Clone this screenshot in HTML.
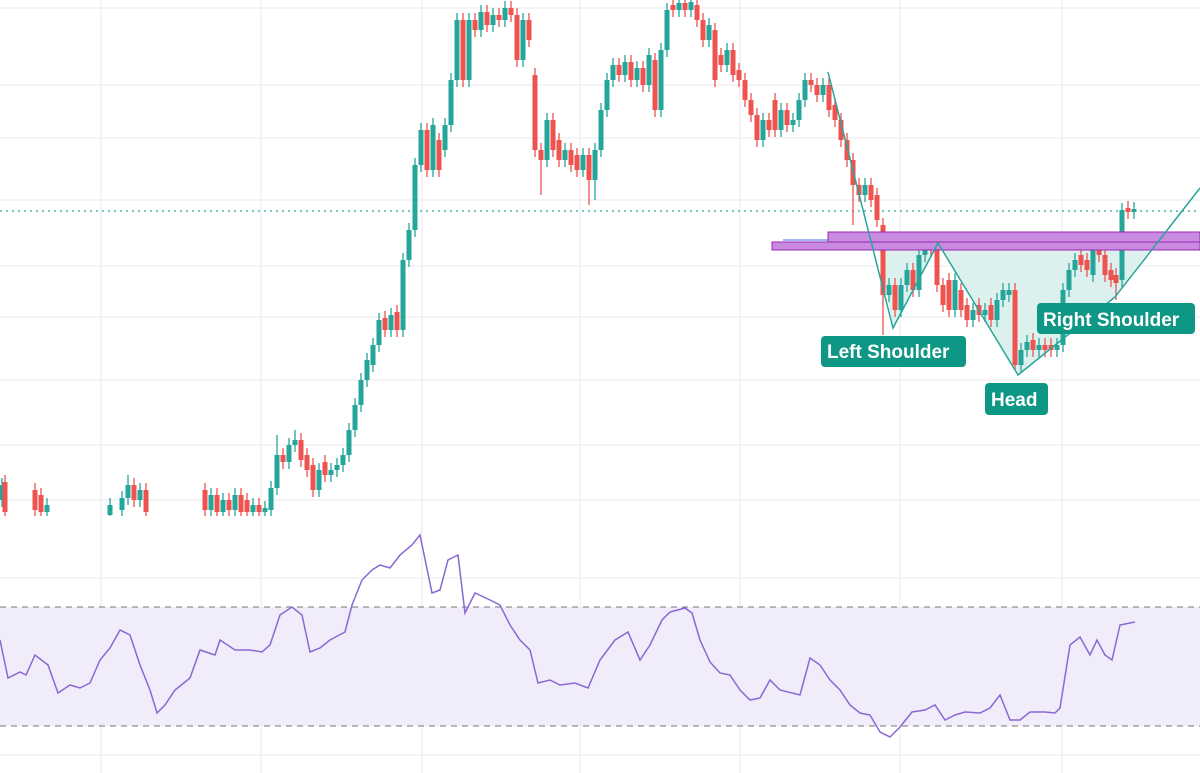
<!DOCTYPE html>
<html><head><meta charset="utf-8"><style>
html,body{margin:0;padding:0;background:#fff;width:1200px;height:773px;overflow:hidden}
svg{display:block}
text{font-family:"Liberation Sans",sans-serif;font-weight:bold;fill:#fff;font-size:19px}
</style></head><body>
<svg width="1200" height="773" xmlns="http://www.w3.org/2000/svg">
<defs><clipPath id="cp"><rect x="0" y="0" width="1200" height="516"/></clipPath></defs>
<g stroke="#f0f0f3" stroke-width="1.5">
<line x1="101" y1="0" x2="101" y2="773"/><line x1="261" y1="0" x2="261" y2="773"/><line x1="422" y1="0" x2="422" y2="773"/><line x1="580" y1="0" x2="580" y2="773"/><line x1="740" y1="0" x2="740" y2="773"/><line x1="900" y1="0" x2="900" y2="773"/><line x1="1062" y1="0" x2="1062" y2="773"/>
<line x1="0" y1="8" x2="1200" y2="8"/><line x1="0" y1="85" x2="1200" y2="85"/><line x1="0" y1="138" x2="1200" y2="138"/><line x1="0" y1="200" x2="1200" y2="200"/><line x1="0" y1="266" x2="1200" y2="266"/><line x1="0" y1="317" x2="1200" y2="317"/><line x1="0" y1="380" x2="1200" y2="380"/><line x1="0" y1="445" x2="1200" y2="445"/><line x1="0" y1="500" x2="1200" y2="500"/>
<line x1="0" y1="578" x2="1200" y2="578"/><line x1="0" y1="655" x2="1200" y2="655"/><line x1="0" y1="695" x2="1200" y2="695"/><line x1="0" y1="755" x2="1200" y2="755"/>
</g>
<rect x="0" y="607" width="1200" height="119" fill="#f1ecf9"/>
<line x1="0" y1="607" x2="1200" y2="607" stroke="#777" stroke-dasharray="6,5"/>
<line x1="0" y1="726" x2="1200" y2="726" stroke="#777" stroke-dasharray="6,5"/>
<polygon points="878,245 893,328 938,243 1018,375 1115,297 1153,245" fill="#dcf0ee"/>
<line x1="0" y1="211" x2="1200" y2="211" stroke="#26a69a" stroke-dasharray="2,4" stroke-width="1.3"/>
<g clip-path="url(#cp)" fill="none">
<path stroke="#26a69a" stroke-width="1.3" d="M2 478V507M47 498V519M110 498V522M122 491V517M128 475V505M140 483V507M211 488V517M223 493V519M235 488V517M253 498V519M265 501V519M271 481V517M277 435V495M289 438V469M295 430V452M319 463V497M331 463V482M337 458V477M343 448V472M349 423V462M355 398V437M361 373V412M367 353V387M373 338V372M379 313V352M391 308V337M403 253V337M409 223V267M415 158V237M421 123V172M433 118V177M445 118V157M451 73V132M457 13V87M469 13V87M481 5V37M493 8V32M505 1V27M523 13V67M547 113V167M565 143V167M583 148V177M595 143V200M601 103V157M607 73V117M613 58V87M625 55V82M637 61V87M649 48V92M661 43V117M667 3V57M679 0V17M691 0V17M709 18V47M727 43V72M763 113V147M781 103V137M793 113V132M799 93V127M805 73V107M823 78V102M865 178V202M889 278V302M901 278V317M907 263V292M919 248V297M925 238V262M955 273V317M973 303V327M985 303V322M997 293V327M1003 283V307M1009 283V302M1021 343V372M1027 335V357M1039 338V357M1057 338V357M1063 283V352M1069 263V297M1075 253V277M1093 238V282M1122 203V287M1134 202V219"/>
<path stroke="#26a69a" stroke-width="5" d="M2 485V500M47 505V512M110 505V515M122 498V510M128 485V498M140 490V500M211 495V510M223 500V512M235 495V510M253 505V512M265 508V512M271 488V510M277 455V488M289 445V462M295 440V445M319 470V490M331 470V475M337 465V470M343 455V465M349 430V455M355 405V430M361 380V405M367 360V380M373 345V365M379 320V345M391 315V330M403 260V330M409 230V260M415 165V230M421 130V165M433 125V170M445 125V150M451 80V125M457 20V80M469 20V80M481 12V30M493 15V25M505 8V20M523 20V60M547 120V160M565 150V160M583 155V170M595 150V180M601 110V150M607 80V110M613 65V80M625 62V75M637 68V80M649 55V85M661 50V110M667 10V50M679 3V10M691 2V10M709 25V40M727 50V65M763 120V140M781 110V130M793 120V125M799 100V120M805 80V100M823 85V95M865 185V195M889 285V295M901 285V310M907 270V285M919 255V290M925 245V255M955 280V310M973 310V320M985 310V315M997 300V320M1003 290V300M1009 290V295M1021 350V365M1027 342V350M1039 345V350M1057 345V350M1063 290V345M1069 270V290M1075 260V270M1093 245V275M1122 210V280M1134 209V212"/>
<path stroke="#ef5350" stroke-width="1.3" d="M5 475V519M35 483V517M41 488V519M134 478V507M146 483V519M205 483V517M217 488V519M229 493V517M241 488V519M247 493V519M259 498V519M283 448V469M301 433V467M307 448V477M313 458V497M325 455V482M385 311V337M397 305V337M427 123V177M439 133V177M463 13V87M475 13V37M487 5V32M499 8V27M511 1V22M517 8V67M529 13V47M535 68V157M541 143V195M553 113V157M559 133V167M571 143V172M577 148V177M589 148V205M619 58V82M631 55V87M643 61V92M655 53V117M673 0V17M685 0V17M697 0V27M703 13V47M715 23V87M721 48V72M733 43V82M739 63V87M745 73V107M751 93V122M757 108V147M769 113V137M775 93V137M787 103V132M811 73V92M817 78V102M829 78V117M835 98V127M841 113V147M847 133V167M853 153V225M859 178V202M871 178V207M877 188V227M883 218V335M895 278V317M913 263V297M931 238V257M937 238V292M943 278V312M949 273V317M961 283V317M967 298V327M979 298V322M991 298V327M1015 283V370M1033 333V357M1045 338V357M1051 338V357M1081 248V272M1087 253V277M1099 238V262M1105 248V282M1111 263V287M1116 268V300M1128 201V219"/>
<path stroke="#ef5350" stroke-width="5" d="M5 482V512M35 490V510M41 495V512M134 485V500M146 490V512M205 490V510M217 495V512M229 500V510M241 495V512M247 500V512M259 505V512M283 455V462M301 440V460M307 455V470M313 465V490M325 462V475M385 318V330M397 312V330M427 130V170M439 140V170M463 20V80M475 20V30M487 12V25M499 15V20M511 8V15M517 15V60M529 20V40M535 75V150M541 150V160M553 120V150M559 140V160M571 150V165M577 155V170M589 155V180M619 65V75M631 62V80M643 68V85M655 60V110M673 5V10M685 3V10M697 5V20M703 20V40M715 30V80M721 55V65M733 50V75M739 70V80M745 80V100M751 100V115M757 115V140M769 120V130M775 100V130M787 110V125M811 80V85M817 85V95M829 85V110M835 105V120M841 120V140M847 140V160M853 160V185M859 185V195M871 185V200M877 195V220M883 225V295M895 285V310M913 270V290M931 245V250M937 245V285M943 285V305M949 280V310M961 290V310M967 305V320M979 305V315M991 305V320M1015 290V365M1033 340V350M1045 345V350M1051 345V350M1081 255V265M1087 260V270M1099 245V255M1105 255V275M1111 270V280M1116 275V283M1128 208V212"/>
</g>
<rect x="828" y="232" width="372" height="14" fill="#c98be2" stroke="#9c27b0" stroke-width="1"/>
<rect x="772" y="242" width="428" height="8" fill="#c98be2" stroke="#9c27b0" stroke-width="1"/>
<line x1="783" y1="240" x2="828" y2="240" stroke="#3f6fe0" stroke-width="1"/>
<polyline points="828,72 893,328 938,243 1018,375 1115,297 1200,188" fill="none" stroke="#26a69a" stroke-width="1.5"/>
<polyline fill="none" stroke="#8a68d4" stroke-width="1.5" points="0,640 8,678 20,672 26,675 35,655 48,665 58,693 70,685 80,688 90,683 100,660 110,648 120,630 130,635 140,665 150,690 157,713 165,705 175,690 190,678 200,650 215,655 220,640 235,650 250,650 262,652 270,645 280,615 292,607 302,615 310,652 320,648 330,640 345,632 352,605 362,580 372,570 380,565 390,568 400,555 412,545 420,535 432,593 440,590 448,560 458,555 465,613 475,593 490,600 500,605 510,625 520,640 530,650 538,683 550,680 560,685 575,683 588,688 600,660 615,640 628,632 640,660 650,645 662,620 670,612 685,608 692,613 700,640 710,662 720,673 730,675 740,690 750,700 760,698 770,680 780,690 800,695 810,658 820,665 830,680 840,690 850,705 860,713 870,715 880,732 890,737 900,727 912,712 925,710 935,705 945,720 955,715 965,712 980,713 990,708 1000,695 1010,720 1020,720 1030,712 1045,712 1055,713 1060,708 1070,645 1080,637 1090,655 1097,640 1105,655 1112,660 1120,625 1135,622"/>
<rect x="821" y="336" width="145" height="31" rx="4" fill="#0f9786"/><text x="827" y="358">Left Shoulder</text>
<rect x="985" y="383" width="63" height="32" rx="4" fill="#0f9786"/><text x="991" y="406">Head</text>
<rect x="1037" y="303" width="158" height="31" rx="4" fill="#0f9786"/><text x="1043" y="326">Right Shoulder</text>
</svg>
</body></html>
